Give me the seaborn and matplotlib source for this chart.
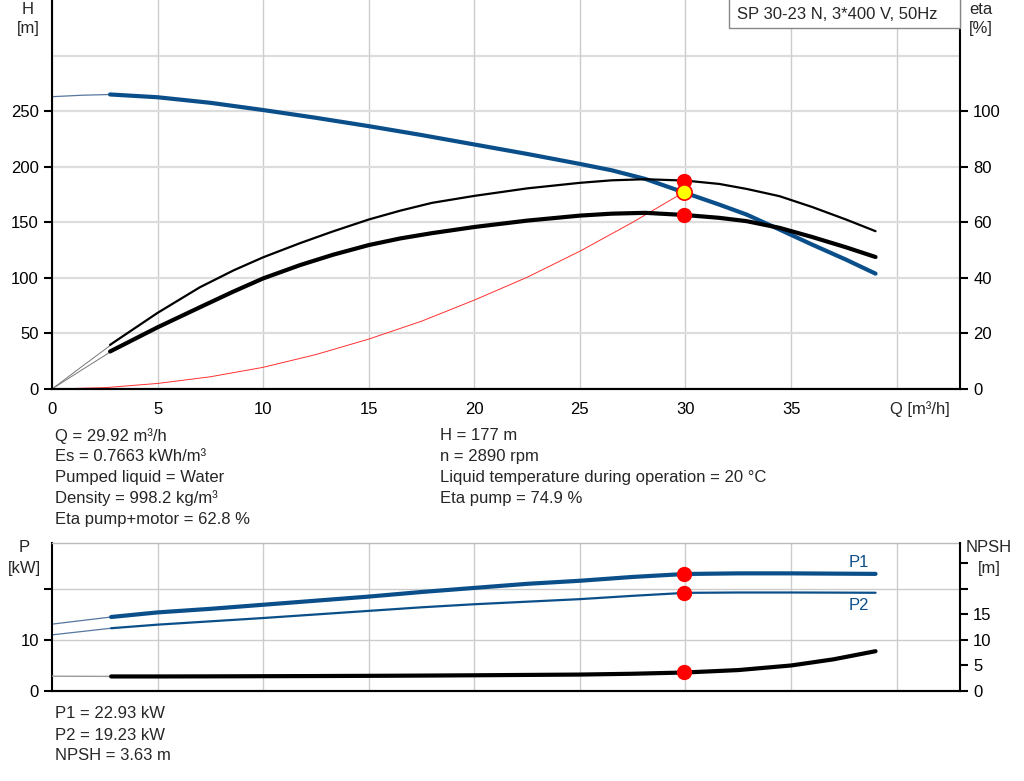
import matplotlib
matplotlib.use("Agg")
import matplotlib.pyplot as plt
import seaborn as sns
from matplotlib.patches import Rectangle

# --- data ---
q_head = [2.75, 5, 7.5, 10, 12.5, 15, 17.5, 20, 22.5, 25, 26.5, 28.1, 30, 31.6, 32.9, 34.45, 36, 37.6, 39]
head = [265, 262.5, 257.5, 251, 244, 236.5, 228.5, 220, 211.5, 202.5, 196.8, 189, 176.4, 165.9, 156.9, 143.5, 129.9, 116.4, 103.8]

q_eta = [2.75, 5, 7, 8.6, 10, 11.75, 13.3, 15, 16.5, 18, 20, 22.5, 25, 26.5, 28.1, 30, 31.6, 32.9, 34.45, 36, 37.6, 39]
eta_pump = [15.9, 27.4, 36.6, 42.7, 47.4, 52.5, 56.7, 61.0, 64.2, 67.0, 69.5, 72.2, 74.2, 75.1, 75.5, 75.0, 73.8, 72.0, 69.4, 65.5, 61.0, 56.8]
eta_total = [13.5, 22.2, 29.4, 35.1, 39.8, 44.6, 48.3, 51.8, 54.2, 56.1, 58.3, 60.6, 62.4, 63.1, 63.4, 62.6, 61.6, 60.4, 58.0, 54.7, 51.0, 47.5]

q_power = [2.8, 5, 7.5, 10, 12.5, 15, 17.5, 20, 22.5, 25, 27.5, 30, 32.5, 35, 37, 39]
p1 = [14.5, 15.4, 16.1, 16.9, 17.7, 18.5, 19.4, 20.2, 21.0, 21.6, 22.35, 22.93, 23.05, 23.05, 23.0, 22.95]
p2 = [12.3, 13.0, 13.65, 14.3, 15.0, 15.7, 16.4, 17.0, 17.5, 18.0, 18.65, 19.23, 19.3, 19.3, 19.28, 19.25]
npsh = [2.85, 2.85, 2.87, 2.9, 2.93, 2.97, 3.02, 3.08, 3.15, 3.22, 3.38, 3.63, 4.1, 5.0, 6.2, 7.8]

# thin extensions towards Q = 0
q_ext = [0, 1.4, 2.8]
head_ext = [263, 264.3, 265]
eta_pump_ext = [0, 8.0, 15.9]
eta_total_ext = [0, 6.8, 13.5]
p1_ext = [13.1, 13.8, 14.5]
p2_ext = [11.0, 11.65, 12.3]
npsh_ext = [2.9, 2.88, 2.86]

# system curve
q_sys = [0, 2.5, 5, 7.5, 10, 12.5, 15, 17.5, 20, 22.5, 25, 27.5, 29.92]
h_sys = [0, 1.2, 5, 11, 19.5, 31, 44.9, 61, 80, 100.5, 124, 150, 177]

# duty point
q_duty = 29.92
h_duty = 177
eta_pump_duty = 74.9
eta_total_duty = 62.8
p1_duty = 22.93
p2_duty = 19.23
npsh_duty = 3.63

title = "SP 30-23 N, 3*400 V, 50Hz"
info_left = ["Q = 29.92 m³/h", "Es = 0.7663 kWh/m³", "Pumped liquid = Water",
             "Density = 998.2 kg/m³", "Eta pump+motor = 62.8 %"]
info_right = ["H = 177 m", "n = 2890 rpm",
              "Liquid temperature during operation = 20 °C", "Eta pump = 74.9 %"]
info_bottom = ["P1 = 22.93 kW", "P2 = 19.23 kW", "NPSH = 3.63 m"]

sns.set_theme(style="white")
plt.rcParams['font.family'] = ['Liberation Sans', 'DejaVu Sans']
FS = 12

BLUE = "#0b4f8a"
W, H = 1024, 781
fig = plt.figure(figsize=(W / 100, H / 100), dpi=100)


def fx(px):
    return px / W


def fy(py):
    return 1 - py / H


def style_axis(ax):
    for s in ax.spines.values():
        s.set_color("black")
        s.set_linewidth(1.5)
    ax.tick_params(axis="both", colors="black", labelsize=FS, length=6, width=1.5,
                   direction="out")


def unit_label(x, y, name, unit):
    fig.text(fx(x), fy(y), name, ha="center", va="center", fontsize=FS)
    fig.text(fx(x), fy(y + 20), unit, ha="center", va="center", fontsize=FS)


# ---------------- top chart ----------------
ax = fig.add_axes([fx(52), fy(389), fx(908), 389 / H])
ax.set_xlim(0, 43)
ax.set_ylim(0, 350)
ax.set_xticks(range(0, 45, 5))
ax.set_xticklabels([str(v) for v in range(0, 40, 5)] + [""])
ax.set_yticks(range(0, 300, 50))
ax.grid(axis="x", color="#cccccc", lw=1)
ax.grid(axis="y", color="#dddddd", lw=1.6)
ax.axhline(300, color="#dddddd", lw=1.6, zorder=0)
ax.set_axisbelow(True)
style_axis(ax)
ax.spines["top"].set_visible(False)
ax.spines["right"].set_visible(False)
ax.tick_params(axis="x", pad=3)

sns.lineplot(x=q_ext, y=head_ext, ax=ax, color="#5577a0", lw=0.9)
sns.lineplot(x=q_head, y=head, ax=ax, color=BLUE, lw=3)
sns.lineplot(x=q_sys, y=h_sys, ax=ax, color="#ff3030", lw=0.7)

ax.text(39.7, -11, "Q [m³/h]", ha="left", va="top", fontsize=FS)

ax2 = ax.twinx()
ax2.set_ylim(0, 140)
ax2.set_yticks(range(0, 120, 20))
style_axis(ax2)
ax2.spines["top"].set_visible(False)
ax2.spines["left"].set_visible(False)
ax2.grid(False)

sns.lineplot(x=q_ext, y=eta_pump_ext, ax=ax2, color="#777777", lw=0.7)
sns.lineplot(x=q_ext, y=eta_total_ext, ax=ax2, color="#777777", lw=0.7)
sns.lineplot(x=q_eta, y=eta_pump, ax=ax2, color="black", lw=1.6)
sns.lineplot(x=q_eta, y=eta_total, ax=ax2, color="black", lw=3)
ax2.plot([q_duty, q_duty], [eta_pump_duty, eta_total_duty], ls="none",
         marker="o", ms=10, color="red", zorder=5)
# duty head point, drawn on the eta axis (100 % = 250 m) so it sits above the curves
ax2.plot([q_duty], [h_duty * 0.4], ls="none", marker="o", ms=11,
         mfc="yellow", mec="red", mew=1.2, zorder=6)

# title box
ax2.add_patch(Rectangle((0.7456, 0.928), 0.2544, 0.08, transform=ax2.transAxes,
                        fill=True, facecolor="white", edgecolor="#888888",
                        lw=1, clip_on=False, zorder=7))
ax2.text(0.7544, 0.964, title, transform=ax2.transAxes, ha="left", va="center",
         fontsize=FS, zorder=8)

unit_label(28, 9, "H", "[m]")
unit_label(981, 9, "eta", "[%]")

for i, t in enumerate(info_left):
    fig.text(fx(55), fy(436 + i * 20.8), t, ha="left", va="center", fontsize=FS)
for i, t in enumerate(info_right):
    fig.text(fx(440), fy(436 + i * 20.8), t, ha="left", va="center", fontsize=FS)

# ---------------- bottom chart ----------------
bx = fig.add_axes([fx(52), fy(691), fx(908), 148 / H])
bx.set_xlim(0, 43)
bx.set_ylim(0, 29)
bx.set_xticks(range(5, 45, 5))
bx.set_xticklabels([])
bx.set_yticks([0, 10, 20])
bx.set_yticklabels(["0", "10", ""])
bx.grid(axis="both", color="#cccccc", lw=1)
bx.set_axisbelow(True)
style_axis(bx)
bx.tick_params(axis="x", length=0)
bx.spines["top"].set_color("#bbbbbb")
bx.spines["top"].set_linewidth(1)
bx.spines["right"].set_visible(False)

sns.lineplot(x=q_ext, y=p1_ext, ax=bx, color="#5577a0", lw=0.9)
sns.lineplot(x=q_ext, y=p2_ext, ax=bx, color="#5577a0", lw=0.9)
sns.lineplot(x=q_power, y=p1, ax=bx, color=BLUE, lw=3)
sns.lineplot(x=q_power, y=p2, ax=bx, color=BLUE, lw=1.6)
bx.plot([q_duty, q_duty], [p1_duty, p2_duty], ls="none", marker="o", ms=10,
        color="red", zorder=5)
bx.text(38.2, 25.1, "P1", color=BLUE, ha="center", va="center", fontsize=FS)
bx.text(38.2, 16.8, "P2", color=BLUE, ha="center", va="center", fontsize=FS)

bx2 = bx.twinx()
bx2.set_ylim(0, 29)
bx2.set_yticks(range(0, 30, 5))
bx2.set_yticklabels(["0", "5", "10", "15", "", ""])
style_axis(bx2)
bx2.spines["top"].set_visible(False)
bx2.spines["left"].set_visible(False)
bx2.grid(False)

sns.lineplot(x=q_ext, y=npsh_ext, ax=bx2, color="#999999", lw=1)
sns.lineplot(x=q_power, y=npsh, ax=bx2, color="black", lw=3)
bx2.plot([q_duty], [npsh_duty], ls="none", marker="o", ms=10, color="red", zorder=5)

unit_label(24, 548, "P", "[kW]")
unit_label(989, 548, "NPSH", "[m]")

for i, t in enumerate(info_bottom):
    fig.text(fx(55), fy(714 + i * 21), t, ha="left", va="center", fontsize=FS)

fig.savefig("out.png", dpi=100, facecolor="white")
